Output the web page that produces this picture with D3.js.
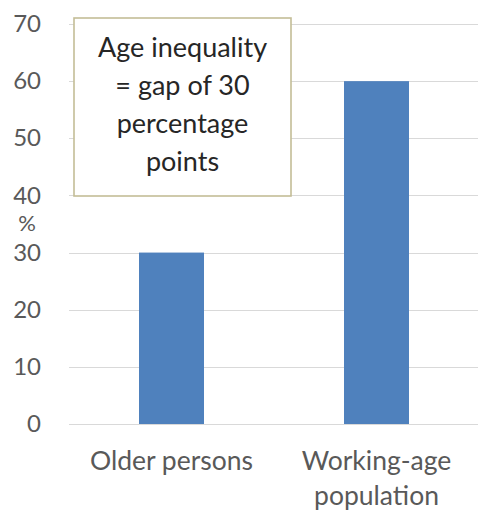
<!DOCTYPE html>
<html>
<head>
<meta charset="utf-8">
<script src="https://cdn.jsdelivr.net/npm/d3@7"></script>
<style>
  body { margin: 0; background: #fff; }
  text { font-family: Lato, "Open Sans", sans-serif; }
</style>
</head>
<body>
<script>
// data
const categories = ["Older persons", "Working-age population"];
const values = [30, 60];
const yTicks = [0, 10, 20, 30, 40, 50, 60, 70];
const noteLines = ["Age inequality", "= gap of 30", "percentage", "points"];

const width = 478;
const height = 511;
const margin = { top: 24, right: 0, bottom: 87, left: 69 };

const svg = d3.select("body").append("svg")
  .attr("width", width)
  .attr("height", height);

const x = d3.scaleBand()
  .domain(categories)
  .range([margin.left, width + 1])
  .paddingInner(0.683)
  .paddingOuter(0.683 / 2);

const y = d3.scaleLinear()
  .domain([0, 70])
  .range([height - margin.bottom, margin.top]);

// gridlines
svg.append("g")
  .selectAll("line")
  .data(yTicks)
  .join("line")
  .attr("x1", margin.left)
  .attr("x2", width)
  .attr("y1", d => Math.round(y(d)) + 0.5)
  .attr("y2", d => Math.round(y(d)) + 0.5)
  .attr("stroke", "#d9d9d9")
  .attr("stroke-width", 1.2);

// y axis labels
const yAxis = svg.append("g")
  .attr("transform", `translate(${margin.left - 28},0)`)
  .call(d3.axisLeft(y).tickValues(yTicks).tickSize(0).tickPadding(0));
yAxis.select(".domain").remove();
yAxis.selectAll("text")
  .attr("fill", "#595959")
  .style("font-size", "24px")
  .style("font-family", "Lato, 'Open Sans', sans-serif");

svg.append("text")
  .attr("x", 27)
  .attr("y", 231)
  .attr("text-anchor", "middle")
  .attr("fill", "#595959")
  .style("font-size", "22px")
  .text("%");

// bars
svg.append("g")
  .selectAll("rect")
  .data(values)
  .join("rect")
  .attr("x", (d, i) => x(categories[i]))
  .attr("width", x.bandwidth())
  .attr("y", d => y(d))
  .attr("height", d => y(0) - y(d))
  .attr("fill", "#4f81bd");

// x labels
const xLabels = [["Older persons"], ["Working-age", "population"]];
svg.append("g")
  .selectAll("text")
  .data(categories)
  .join("text")
  .attr("text-anchor", "middle")
  .attr("fill", "#595959")
  .style("font-size", "26.5px")
  .attr("transform", d => `translate(${x(d) + x.bandwidth() / 2},470)`)
  .selectAll("tspan")
  .data((d, i) => xLabels[i])
  .join("tspan")
  .attr("x", 0)
  .attr("dy", (d, i) => i === 0 ? 0 : 35)
  .text(d => d);

// annotation box
const box = { x: 74, y: 18, w: 217, h: 178 };
svg.append("rect")
  .attr("x", box.x)
  .attr("y", box.y)
  .attr("width", box.w)
  .attr("height", box.h)
  .attr("fill", "#fff")
  .attr("stroke", "#c4bd97")
  .attr("stroke-width", 1.6);

svg.append("text")
  .attr("text-anchor", "middle")
  .attr("fill", "#262626")
  .style("font-size", "27px")
  .selectAll("tspan")
  .data(noteLines)
  .join("tspan")
  .attr("x", box.x + box.w / 2)
  .attr("y", (d, i) => 57 + i * 38)
  .text(d => d);
</script>
</body>
</html>
